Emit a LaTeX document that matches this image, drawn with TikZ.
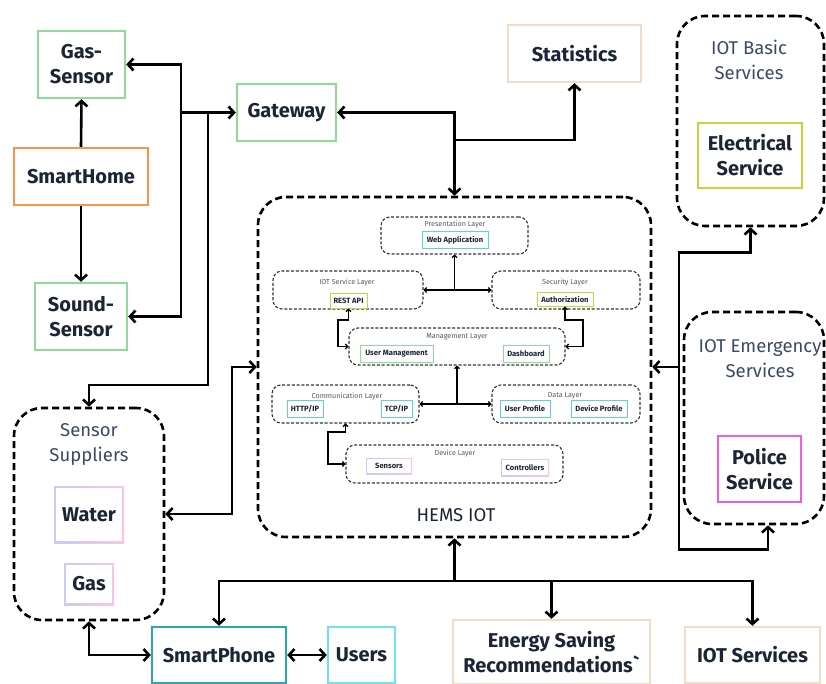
\documentclass[tikz,border=0pt]{standalone}
\usepackage{fontspec}
\setmainfont{Fira Sans}
\usetikzlibrary{arrows.meta}

\definecolor{mint}{HTML}{8FDC96}
\definecolor{apricot}{HTML}{F7954F}
\definecolor{peach}{HTML}{F5DCC8}
\definecolor{teal}{HTML}{2AA8B0}
\definecolor{aqua}{HTML}{6FE3EA}
\definecolor{olive}{HTML}{C9D33A}
\definecolor{orchid}{HTML}{EE5FE0}
\definecolor{cyanish}{HTML}{5FD3DD}
\definecolor{lav}{HTML}{C9C9F7}
\definecolor{rose}{HTML}{F8C6E6}
\definecolor{ink}{HTML}{1C2536}
\definecolor{slate}{HTML}{3A4A66}

\begin{document}
\begin{tikzpicture}[x=1pt,y=-1pt,
    >={Straight Barb[length=5.5pt,width=12pt]},
    conn/.style={line width=2.6pt},
    thinconn/.style={line width=1.3pt,>={Straight Barb[length=2.2pt,width=5pt]}},
    sz/.style 2 args={minimum width=#1pt,minimum height=#2pt},
    blk/.style={draw=#1,line width=2.4pt,fill=white,text=ink,align=center,inner sep=0pt,
      font=\fontsize{20}{25}\selectfont\bfseries},
    grp/.style={draw,dash pattern=on 7pt off 4pt,line width=2.6pt,rounded corners=28pt,inner sep=0pt},
    grptxt/.style={font=\fontsize{18.5}{25}\selectfont,text=slate,align=center},
    lyr/.style={draw=black!80,dash pattern=on 3pt off 1.8pt,line width=1.1pt,rounded corners=9pt,inner sep=0pt},
    lyrtxt/.style={font=\fontsize{7.2}{8}\selectfont,text=black!65},
    itm/.style={draw=#1,line width=1pt,fill=white,text=ink,inner sep=0pt,
      font=\fontsize{7.6}{8}\selectfont\bfseries},
    gradbox/.style={fill=white,inner sep=0pt,text=ink,
      path picture={
        \shade[left color=lav,right color=rose] (path picture bounding box.north west) rectangle (path picture bounding box.south east);
        \fill[white] ([shift={(#1,-#1)}]path picture bounding box.north west) rectangle ([shift={(-#1,#1)}]path picture bounding box.south east);}}
  ]
  \useasboundingbox (0,0) rectangle (826,684);

  % left column
  \node[blk=mint,sz={87}{67}]     (gas)     at (81.5,64.5)  {Gas-\\Sensor};
  \node[blk=apricot,sz={134}{57}] (home)    at (81,176.5)   {SmartHome};
  \node[blk=mint,sz={92}{67}]     (sound)   at (81,316.5)   {Sound-\\Sensor};
  \node[blk=mint,sz={99}{57}]     (gateway) at (286.5,112.5) {Gateway};
  \node[blk=peach,sz={133}{57}]   (stats)   at (574.5,53.5) {Statistics};

  % groups
  \node[grp,sz={393}{340}] (hems)   at (454.5,367) {};
  \node[font=\fontsize{18.5}{20}\selectfont,text=ink] (hemsT) at (456,515) {HEMS IOT};
  \node[grp,sz={147}{210}] (basic)  at (750.5,121) {};
  \node[grptxt] (basicT) at (749,60) {IOT Basic\\Services};
  \node[blk=olive,sz={104}{65}] (elec) at (750,155.5) {Electrical\\Service};
  \node[grp,sz={140}{212}] (emerg)  at (754,418) {};
  \node[grptxt] (emergT) at (760,359) {IOT Emergency\\Services};
  \node[blk=orchid,sz={83}{66}] (police) at (759.5,469) {Police\\Service};
  \node[grp,sz={150}{212}] (supp)   at (89,514) {};
  \node[grptxt] (suppT) at (89,444) {Sensor\\Suppliers};
  \node[gradbox=2.4pt,sz={70}{57},font=\fontsize{20}{25}\selectfont\bfseries] (water) at (89,514.5) {Water};
  \node[gradbox=2.4pt,sz={50}{42},font=\fontsize{20}{25}\selectfont\bfseries] (gasS)  at (89,584) {Gas};

  % bottom row
  \node[blk=teal,sz={134}{56}]  (phone)  at (219,655)   {SmartPhone};
  \node[blk=aqua,sz={67}{56}]   (users)  at (361.5,655) {Users};
  \node[blk=peach,sz={197}{64}] (energy) at (551.5,652) {Energy Saving\\Recommendations\textasciigrave};
  \node[blk=peach,sz={135}{56}] (iotsvc) at (752.5,655) {IOT Services};

  % inner layers
  \node[lyr,sz={147}{37}] (pres) at (454.5,235.5) {};
  \node[lyrtxt] (presT) at (455,224) {Presentation Layer};
  \node[itm=cyanish,sz={66}{17}] (web) at (455,240.5) {Web Application};
  \node[lyr,sz={150}{38}] (svc) at (348,290) {};
  \node[lyrtxt] (svcT) at (347,282) {IOT Service Layer};
  \node[itm=olive,sz={37}{15}] (rest) at (348.5,300.5) {REST API};
  \node[lyr,sz={148}{38}] (sec) at (566,290) {};
  \node[lyrtxt] (secT) at (565,282) {Security Layer};
  \node[itm=olive,sz={56}{14}] (auth) at (565,299) {Authorization};
  \node[lyr,sz={216}{37}] (mgmt) at (457,346.5) {};
  \node[lyrtxt] (mgmtT) at (457,337) {Management Layer};
  \node[itm=mint,sz={73}{17}] (usrmg) at (396.5,353.5) {User Management};
  \node[itm=mint,sz={46}{17}] (dash)  at (526,353.5) {Dashboard};
  \node[lyr,sz={147}{38}] (comm) at (345.5,404) {};
  \node[lyrtxt] (commT) at (347,396) {Communication Layer};
  \node[itm=cyanish,sz={36}{17}] (http) at (305,408.5) {HTTP/IP};
  \node[itm=cyanish,sz={31}{17}] (tcp)  at (396.5,408.5) {TCP/IP};
  \node[lyr,sz={148}{38}] (data) at (566,404) {};
  \node[lyrtxt] (dataT) at (565,396) {Data Layer};
  \node[itm=cyanish,sz={50}{17}] (uprof) at (525,408.5) {User Profile};
  \node[itm=cyanish,sz={56}{17}] (dprof) at (599,408.5) {Device Profile};
  \node[lyr,sz={217}{38}] (dev) at (454.5,464) {};
  \node[lyrtxt] (devT) at (455,453) {Device Layer};
  \node[gradbox=0.9pt,sz={46}{16},font=\fontsize{7.6}{8}\selectfont\bfseries] (sens) at (389,466) {Sensors};
  \node[gradbox=0.9pt,sz={48}{17},font=\fontsize{7.6}{8}\selectfont\bfseries] (ctrl) at (525,467.5) {Controllers};

  % junctions
  \coordinate (j1) at (181,112.5);
  \coordinate (j2) at (208,112.5);
  \coordinate (j3) at (208,385);
  \coordinate (j4) at (454.5,140);
  \coordinate (l1) at (232,440);
  \coordinate (r1) at (679,367);
  \coordinate (b1) at (454.5,581);

  % outer connectors
  \draw[conn,->] (home.north) -- (gas.south);
  \draw[conn,->] (home.south) -- (sound.north);
  \draw[conn,<-] (gas.east) -| (j1);
  \draw[conn,<-] (sound.east) -| (j1);
  \draw[conn,->] (j1) -- (gateway.west);
  \draw[conn,->] (j2) -- (j3) -| (supp.north);
  \draw[conn,<->] (gateway.east) -| (hems.north);
  \draw[conn,->] (j4) -| (stats.south);
  \draw[conn,<->] (supp.east) -| (l1) |- (hems.west);
  \draw[conn,->] (r1) -- (hems.east);
  \draw[conn,->] (r1) |- ([yshift=-25pt]basic.south) -- (basic.south);
  \draw[conn,->] (r1) |- ([xshift=14pt,yshift=-24pt]emerg.south) -- ([xshift=14pt]emerg.south);
  \draw[conn,->] (b1) -- (hems.south);
  \draw[conn,->] (b1) -| (phone.north);
  \draw[conn,->] (b1) -| (energy.north);
  \draw[conn,->] (b1) -| (iotsvc.north);
  \draw[conn,<->] (phone.east) -- (users.west);
  \draw[conn,<->] (supp.south) |- (phone.west);

  % inner connectors
  \draw[thinconn,<->] (svc.east) -- (sec.west);
  \draw[thinconn,->] (pres.south |- svc.east) -- (pres.south);
  \draw[thinconn,<->] (rest.south) |- (338,320) |- (mgmt.west);
  \draw[thinconn,<->] (auth.south) |- (583,320) |- (mgmt.east);
  \draw[thinconn,<->] (comm.east) -- (data.west);
  \draw[thinconn,->] (mgmt.south |- comm.east) -- (mgmt.south);
  \draw[thinconn,<->] (comm.south) |- (328,432) |- (dev.west);
\end{tikzpicture}
\end{document}
